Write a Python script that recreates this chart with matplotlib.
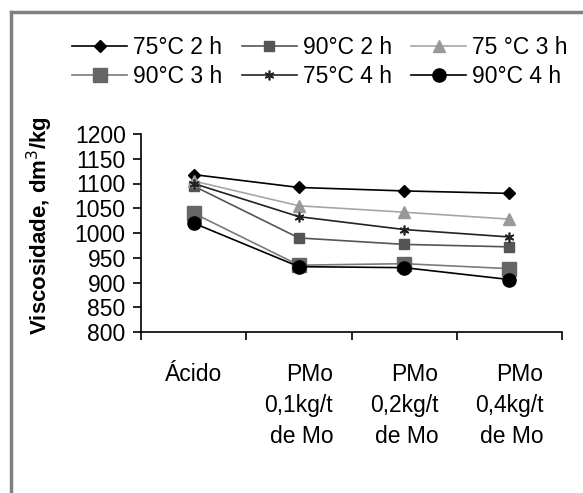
import matplotlib
matplotlib.use("Agg")
import matplotlib.pyplot as plt
from matplotlib.lines import Line2D

plt.rcParams['font.family'] = ['Liberation Sans', 'DejaVu Sans']

# data
categories = ['Ácido', 'PMo\n0,1kg/t\nde Mo', 'PMo\n0,2kg/t\nde Mo', 'PMo\n0,4kg/t\nde Mo']
series_names = ['75°C 2 h', '90°C 2 h', '75 °C 3 h', '90°C 3 h', '75°C 4 h', '90°C 4 h']
v75_2h = [1118, 1092, 1085, 1080]
v90_2h = [1095, 990, 977, 972]
v75_3h = [1105, 1055, 1042, 1028]
v90_3h = [1040, 935, 938, 928]
v75_4h = [1100, 1033, 1007, 992]
v90_4h = [1020, 932, 930, 906]
yticks = [800, 850, 900, 950, 1000, 1050, 1100, 1150, 1200]

values = [v75_2h, v90_2h, v75_3h, v90_3h, v75_4h, v90_4h]
styles = [
    dict(color='black', marker='D', ms=6.5, mfc='black', mec='black'),
    dict(color='#555555', marker='s', ms=7, mfc='#555555', mec='#555555'),
    dict(color='#a6a6a6', marker='^', ms=9, mfc='#999999', mec='#999999'),
    dict(color='#7a7a7a', marker='s', ms=10, mfc='#666666', mec='#666666'),
    dict(color='#222222', marker=(6, 2, 0), ms=7, mfc='#222222', mec='#222222', mew=1.2),
    dict(color='black', marker='o', ms=9.5, mfc='black', mec='black'),
]

fs = 16.5
fig = plt.figure(figsize=(5.83, 4.93), dpi=100)
ax = fig.add_axes([141/583, 1-332/493, (562-141)/583, (332-134)/493])

xs = [i + 0.5 for i in range(len(categories))]
for name, vals, st in zip(series_names, values, styles):
    ax.plot(xs, vals, lw=1.2, label=name, **st)

ax.set_xlim(0, 4)
ax.set_ylim(800, 1200)
ax.set_yticks(yticks)
ax.tick_params(axis='y', direction='out', length=6, width=1.2, labelsize=fs, pad=5)
ax.set_xticks([0, 1, 2, 3, 4])
ax.set_xticklabels([])
ax.tick_params(axis='x', which='major', direction='out', length=6, width=1.2)
ax.set_xticks(xs, minor=True)
ax.set_xticklabels(categories, minor=True, fontsize=fs, multialignment='right', linespacing=1.45)
ax.tick_params(axis='x', which='minor', length=0, pad=22)
for side in ['top', 'right']:
    ax.spines[side].set_visible(False)
for side in ['left', 'bottom']:
    ax.spines[side].set_linewidth(1.2)

fig.text(40/583, 1-226/493, 'Viscosidade, dm$^3$/kg', rotation=90, ha='center', va='center',
         fontsize=16, fontweight='bold')

# legend filled row by row, like the reference
handles, labels = ax.get_legend_handles_labels()
order = [0, 3, 1, 4, 2, 5]
fig.legend([handles[i] for i in order], [labels[i] for i in order], ncol=3, loc='center',
           bbox_to_anchor=(320/583, 1-62/493), frameon=False, fontsize=fs,
           handlelength=2.4, handletextpad=0.26, columnspacing=0.85,
           labelspacing=0.3, borderpad=0)

# grey frame around the chart area (top and left edges visible)
fig.add_artist(Line2D([11/583, 1.0], [1-12/493, 1-12/493], color='#808080', lw=2.5))
fig.add_artist(Line2D([11/583, 11/583], [0.0, 1-12/493], color='#808080', lw=2.5))

fig.savefig('out.png', dpi=100)
